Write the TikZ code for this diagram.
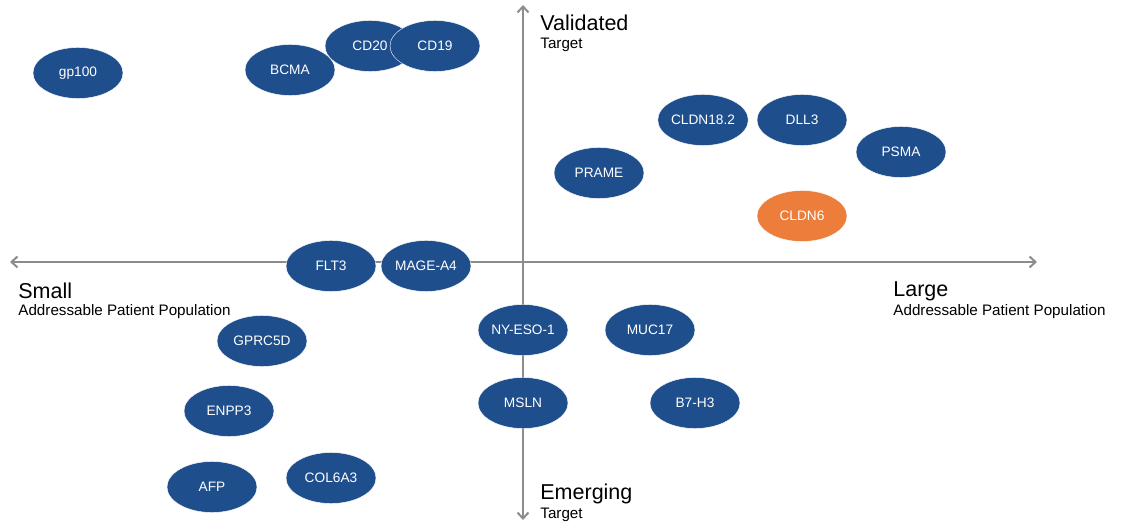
\documentclass[tikz,border=0pt]{standalone}
\usepackage{fontspec}
\setmainfont{Liberation Sans}
\usetikzlibrary{arrows.meta,positioning,shapes.geometric}
\definecolor{tblue}{HTML}{1F4E8C}
\definecolor{torange}{HTML}{ED7D3A}
\definecolor{axisgray}{HTML}{8C8C8C}

\begin{document}
\begin{tikzpicture}[x=1pt, y=-1pt, thick,
        main/.style = {draw=white, line width=0.4pt, ellipse, fill=tblue, text=white, minimum width=90pt, minimum height=51pt, inner sep=0pt, font=\fontsize{13.7}{15}\selectfont},
        hot/.style = {main, fill=torange},
        axis/.style = {draw=axisgray, line width=2pt, -{Straight Barb[length=6pt, width=11pt]}},
        big/.style = {anchor=west, align=left, inner sep=0pt, font=\fontsize{21.5}{24}\selectfont},
        small/.style = {anchor=west, align=left, inner sep=0pt, font=\fontsize{15.2}{17}\selectfont}]
        \useasboundingbox (0,0) rectangle (1123,526);

        % axes
        \coordinate (O) at (523,262);
        \coordinate (L) at (10,262);
        \coordinate (R) at (1037,262);
        \coordinate (T) at (523,5);
        \coordinate (B) at (523,520);
        \draw[axis] (O) -- (L);
        \draw[axis] (O) -- (R);
        \draw[axis] (O) -- (T);
        \draw[axis] (O) -- (B);

        \node[big] (val) at (540,23) {Validated};
        \node[small] (valt) at (540,45) {Target};
        \node[big] (emg) at (540,494) {Emerging};
        \node[small] (emgt) at (540,515) {Target};
        \node[big] (sml) at (18,291) {Small};
        \node[small] (smlt) at (18,312) {Addressable Patient Population};
        \node[big] (lrg) at (893,291) {Large};
        \node[small] (lrgt) at (893,312) {Addressable Patient Population};

        % targets
        \node[main] (gp100) at (78,73) {gp100};
        \node[main] (BCMA) at (290,70) {BCMA};
        \node[main] (CD20) at (370,46) {CD20};
        \node[main] (CD19) at (435,46) {CD19};
        \node[main] (CLDN182) at (703,120) {CLDN18.2};
        \node[main] (DLL3) at (802,120) {DLL3};
        \node[main] (PSMA) at (901,152) {PSMA};
        \node[main] (PRAME) at (599,173) {PRAME};
        \node[hot] (CLDN6) at (802,216) {CLDN6};
        \node[main] (FLT3) at (331,266) {FLT3};
        \node[main] (MAGEA4) at (426,266) {MAGE-A4};
        \node[main] (GPRC5D) at (262,341) {GPRC5D};
        \node[main] (NYESO1) at (523,330) {NY-ESO-1};
        \node[main] (MUC17) at (650,330) {MUC17};
        \node[main] (ENPP3) at (229,411) {ENPP3};
        \node[main] (MSLN) at (523,403) {MSLN};
        \node[main] (B7H3) at (695,403) {B7-H3};
        \node[main] (AFP) at (212,487) {AFP};
        \node[main] (COL6A3) at (331,478) {COL6A3};
    \end{tikzpicture}
\end{document}
